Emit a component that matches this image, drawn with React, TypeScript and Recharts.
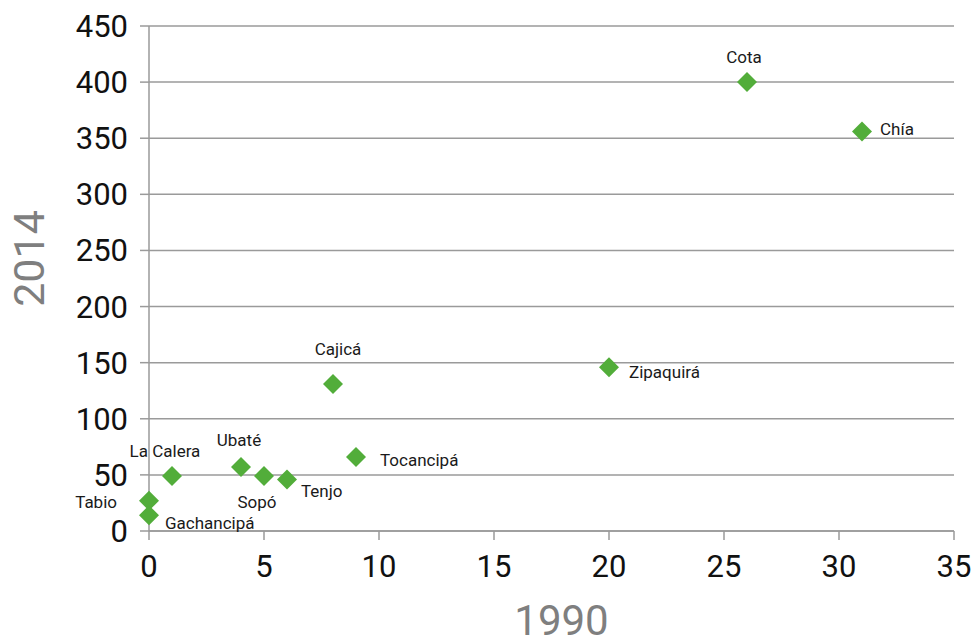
import React from 'react';
import { ScatterChart, Scatter, XAxis, YAxis, CartesianGrid, LabelList } from 'recharts';

const municipios = ['Cota', 'Chía', 'Zipaquirá', 'Cajicá', 'Tocancipá', 'Tenjo', 'Sopó', 'Ubaté', 'La Calera', 'Tabio', 'Gachancipá'];
const values1990 = [26, 31, 20, 8, 9, 6, 5, 4, 1, 0, 0];
const values2014 = [400, 356, 146, 131, 66, 46, 49, 57, 49, 27, 14];
const xTicks = [0, 5, 10, 15, 20, 25, 30, 35];
const yTicks = [0, 50, 100, 150, 200, 250, 300, 350, 400, 450];
const xTitle = '1990';
const yTitle = '2014';

// label placement (style): [dx, dy to baseline, anchor]
const labelPlacement: Record<string, [number, number, string]> = {
  'Cota': [-3, -19, 'middle'],
  'Chía': [18, 4, 'start'],
  'Zipaquirá': [20, 11, 'start'],
  'Cajicá': [5, -29, 'middle'],
  'Tocancipá': [24, 9, 'start'],
  'Tenjo': [14, 18, 'start'],
  'Sopó': [-7, 32, 'middle'],
  'Ubaté': [-2, -21, 'middle'],
  'La Calera': [-7, -19, 'middle'],
  'Tabio': [-32, 7, 'end'],
  'Gachancipá': [16, 14, 'start'],
};

const data = municipios.map((name, i) => ({ name, x: values1990[i], y: values2014[i] }));

const GREEN = '#52ad3a';
const GRID = '#9a9a9a';
const FONT = 'Roboto, "Noto Sans", sans-serif';

const Diamond = (props: any) => {
  const { cx, cy } = props;
  if (cx == null || cy == null) return null;
  const r = 10;
  return <polygon points={`${cx},${cy - r} ${cx + r},${cy} ${cx},${cy + r} ${cx - r},${cy}`} fill={GREEN} />;
};

const PointLabel = (props: any) => {
  const { x, y, width, height, value } = props;
  const cx = x + (width || 0) / 2;
  const cy = y + (height || 0) / 2;
  const p = labelPlacement[value] || [0, -15, 'middle'];
  return (
    <text x={cx + p[0]} y={cy + p[1]} textAnchor={p[2] as any} fontSize={17} fontFamily={FONT} fill="#1a1a1a">
      {value}
    </text>
  );
};

const YTitle = (props: any) => {
  const vb = props.viewBox || {};
  const x = vb.x + 29;
  const y = vb.y + vb.height / 2 - 20;
  return (
    <text x={x} y={y} transform={`rotate(-90, ${x}, ${y})`} textAnchor="middle" dominantBaseline="central" fontSize={43} fontFamily={FONT} fill="#7f7f7f">
      {yTitle}
    </text>
  );
};

const XTitle = (props: any) => {
  const vb = props.viewBox || {};
  const x = vb.x + vb.width / 2 + 10;
  const y = 635;
  return (
    <text x={x} y={y} textAnchor="middle" fontSize={42} fontFamily={FONT} fill="#7f7f7f">
      {xTitle}
    </text>
  );
};

export default function App() {
  return (
    <div style={{ position: 'absolute', left: 0, top: 0, background: '#fff' }}>
      <ScatterChart width={978} height={643} margin={{ top: 26, right: 24, left: 0, bottom: 0 }}>
        <CartesianGrid horizontal vertical={false} stroke={GRID} strokeWidth={1.5} />
        <XAxis
          type="number"
          dataKey="x"
          domain={[0, 35]}
          ticks={xTicks}
          height={112}
          tickSize={9}
          tickMargin={15}
          stroke={GRID}
          strokeWidth={1.5}
          tick={{ fill: '#111', fontSize: 31, fontFamily: FONT }}
          label={<XTitle />}
        />
        <YAxis
          type="number"
          dataKey="y"
          domain={[0, 450]}
          ticks={yTicks}
          width={149}
          tickSize={9}
          tickMargin={12}
          stroke={GRID}
          strokeWidth={1.5}
          tick={{ fill: '#111', fontSize: 31, fontFamily: FONT }}
          label={<YTitle />}
        />
        <Scatter data={data} shape={<Diamond />} isAnimationActive={false}>
          <LabelList dataKey="name" content={<PointLabel />} />
        </Scatter>
      </ScatterChart>
    </div>
  );
}
